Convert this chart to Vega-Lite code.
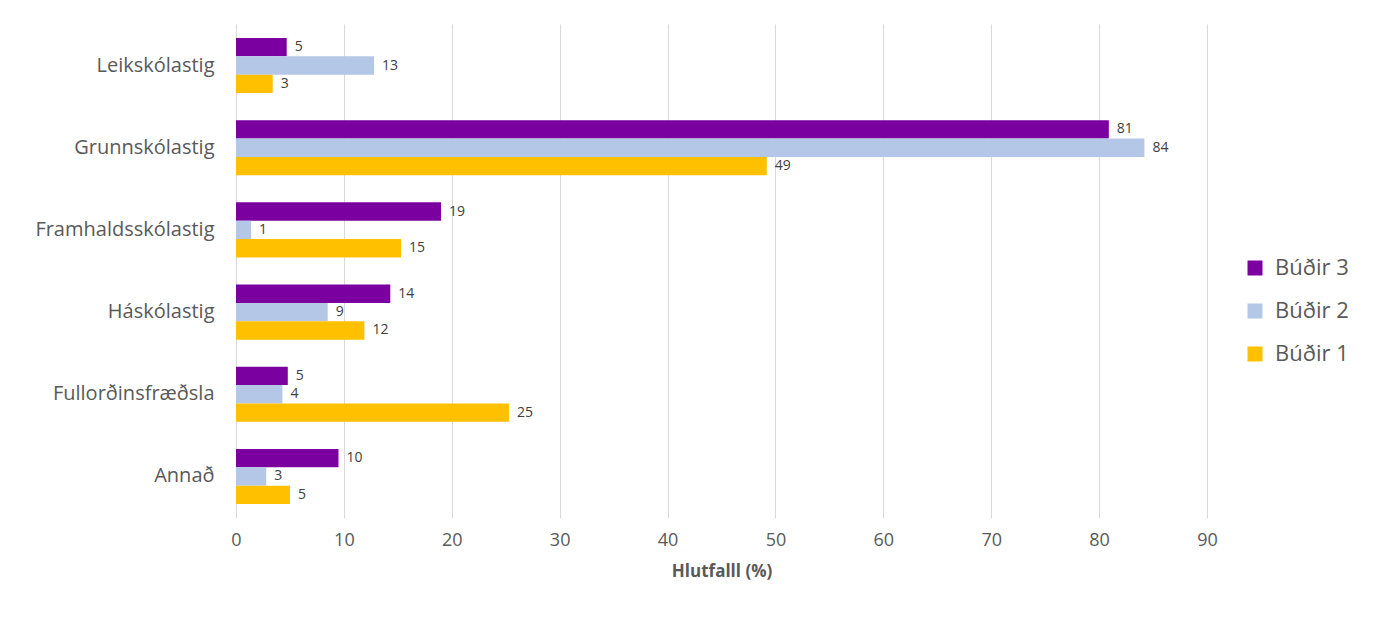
{
  "$schema": "https://vega.github.io/schema/vega-lite/v6.json",
  "width": 971,
  "height": 494,
  "autosize": "none",
  "padding": {"left": 236, "top": 24, "right": 168, "bottom": 99},
  "background": "white",
  "data": {
    "values": [
      {"flokkur": "Leikskólastig", "hopur": "Búðir 3", "gildi": 4.7, "merki": "5"},
      {"flokkur": "Leikskólastig", "hopur": "Búðir 2", "gildi": 12.8, "merki": "13"},
      {"flokkur": "Leikskólastig", "hopur": "Búðir 1", "gildi": 3.4, "merki": "3"},
      {"flokkur": "Grunnskólastig", "hopur": "Búðir 3", "gildi": 80.9, "merki": "81"},
      {"flokkur": "Grunnskólastig", "hopur": "Búðir 2", "gildi": 84.2, "merki": "84"},
      {"flokkur": "Grunnskólastig", "hopur": "Búðir 1", "gildi": 49.2, "merki": "49"},
      {"flokkur": "Framhaldsskólastig", "hopur": "Búðir 3", "gildi": 19.0, "merki": "19"},
      {"flokkur": "Framhaldsskólastig", "hopur": "Búðir 2", "gildi": 1.4, "merki": "1"},
      {"flokkur": "Framhaldsskólastig", "hopur": "Búðir 1", "gildi": 15.3, "merki": "15"},
      {"flokkur": "Háskólastig", "hopur": "Búðir 3", "gildi": 14.3, "merki": "14"},
      {"flokkur": "Háskólastig", "hopur": "Búðir 2", "gildi": 8.5, "merki": "9"},
      {"flokkur": "Háskólastig", "hopur": "Búðir 1", "gildi": 11.9, "merki": "12"},
      {"flokkur": "Fullorðinsfræðsla", "hopur": "Búðir 3", "gildi": 4.8, "merki": "5"},
      {"flokkur": "Fullorðinsfræðsla", "hopur": "Búðir 2", "gildi": 4.3, "merki": "4"},
      {"flokkur": "Fullorðinsfræðsla", "hopur": "Búðir 1", "gildi": 25.3, "merki": "25"},
      {"flokkur": "Annað", "hopur": "Búðir 3", "gildi": 9.5, "merki": "10"},
      {"flokkur": "Annað", "hopur": "Búðir 2", "gildi": 2.8, "merki": "3"},
      {"flokkur": "Annað", "hopur": "Búðir 1", "gildi": 5.0, "merki": "5"}
    ]
  },
  "encoding": {
    "y": {
      "field": "flokkur",
      "type": "nominal",
      "sort": ["Leikskólastig", "Grunnskólastig", "Framhaldsskólastig", "Háskólastig", "Fullorðinsfræðsla", "Annað"],
      "scale": {"paddingInner": 0.33, "paddingOuter": 0.17},
      "axis": {
        "title": null,
        "domain": false,
        "ticks": false,
        "labelFontSize": 20,
        "labelFont": "Open Sans",
        "labelColor": "#595959",
        "labelPadding": 22,
        "labelLimit": 300
      }
    },
    "yOffset": {
      "field": "hopur",
      "type": "nominal",
      "sort": ["Búðir 3", "Búðir 2", "Búðir 1"],
      "scale": {"paddingInner": 0, "paddingOuter": 0}
    },
    "x": {
      "field": "gildi",
      "type": "quantitative",
      "scale": {"domain": [0, 90], "nice": false},
      "axis": {
        "values": [0, 10, 20, 30, 40, 50, 60, 70, 80, 90],
        "title": "Hlutfalll (%)",
        "titleFont": "Open Sans",
        "titleFontSize": 17,
        "titleFontWeight": "bold",
        "titleColor": "#595959",
        "titlePadding": 14,
        "domain": false,
        "ticks": false,
        "labelFlush": false,
        "labelFont": "Open Sans",
        "labelFontSize": 18,
        "labelColor": "#595959",
        "labelPadding": 13,
        "grid": true,
        "gridColor": "#d9d9d9",
        "gridWidth": 1
      }
    }
  },
  "layer": [
    {
      "mark": {"type": "bar", "cornerRadius": 0},
      "encoding": {
        "color": {
          "field": "hopur",
          "type": "nominal",
          "sort": ["Búðir 3", "Búðir 2", "Búðir 1"],
          "scale": {
            "domain": ["Búðir 3", "Búðir 2", "Búðir 1"],
            "range": ["#7b00a0", "#b4c7e7", "#ffc000"]
          },
          "legend": {
            "title": null,
            "orient": "none",
            "legendX": 1008,
            "legendY": 233,
            "symbolType": "square",
            "symbolSize": 225,
            "symbolStrokeWidth": 0,
            "labelFont": "Open Sans",
            "labelFontSize": 22,
            "labelColor": "#595959",
            "rowPadding": 21,
            "labelOffset": 9
          }
        }
      }
    },
    {
      "mark": {"type": "text", "align": "left", "baseline": "middle", "dx": 8, "font": "Open Sans", "fontSize": 14, "color": "#404040"},
      "encoding": {
        "text": {"field": "merki", "type": "nominal"}
      }
    }
  ],
  "config": {
    "view": {"stroke": null}
  }
}
